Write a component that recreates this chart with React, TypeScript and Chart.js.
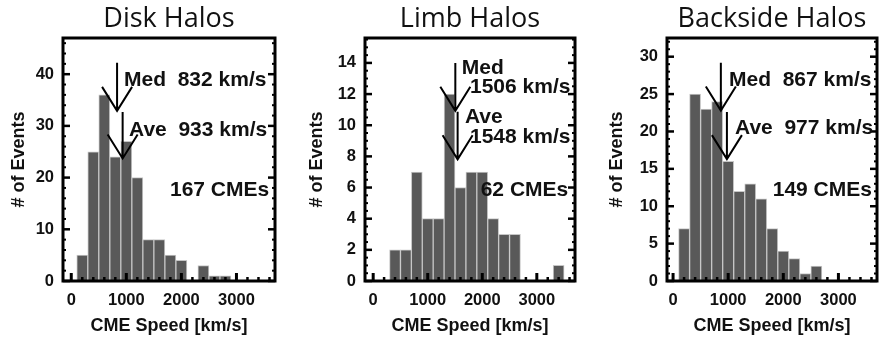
import { useEffect, useRef } from 'react';
import { Chart, registerables } from 'chart.js';

Chart.register(...registerables);

// Histogram bins (bin centres, km/s) and event counts per bin
const speedBins = [200, 400, 600, 800, 1000, 1200, 1400, 1600, 1800, 2000, 2200, 2400, 2600, 2800, 3000, 3200, 3400, 3600];
const diskCounts = [5, 25, 36, 24, 27, 20, 8, 8, 5, 4, 0, 3, 1, 1, 0, 0, 0, 0];
const limbCounts = [0, 2, 2, 7, 4, 4, 12, 6, 7, 7, 4, 3, 3, 0, 0, 0, 1, 0];
const backsideCounts = [7, 25, 23, 24, 16, 12, 13, 11, 7, 4, 3, 1, 2, 0, 0, 0, 0, 0];

// Axis tick labels
const speedTicks = [0, 1000, 2000, 3000];
const diskCountTicks = [0, 10, 20, 30, 40];
const limbCountTicks = [0, 2, 4, 6, 8, 10, 12, 14];
const backsideCountTicks = [0, 5, 10, 15, 20, 25, 30];

// Summary statistics per population
const panelTitles = ['Disk Halos', 'Limb Halos', 'Backside Halos'];
const medianSpeeds = [832, 1506, 867];
const averageSpeeds = [933, 1548, 977];
const eventTotals = [167, 62, 149];

const TEXT = '#111';
const SANS = '"Liberation Sans", Arial, sans-serif';
const H = 344;

type Note = { text: string; x: number; y: number };
type Arrow = { x: number; from: number; to: number };

type Panel = {
  title: string;
  counts: number[];
  yTicks: number[];
  yMax: number;
  yMinor: number;
  xMin: number;
  xMax: number;
  left: number;
  width: number;
  axisWidth: number;
  frameRightPad: number;
  yTitlePad: number;
  arrows: Arrow[];
  notes: Note[];
};

const panels: Panel[] = [
  {
    title: panelTitles[0],
    counts: diskCounts,
    yTicks: diskCountTicks,
    yMax: 47,
    yMinor: 2,
    xMin: -150,
    xMax: 3700,
    left: 0,
    width: 290,
    axisWidth: 63,
    frameRightPad: 15,
    yTitlePad: 8,
    arrows: [
      { x: medianSpeeds[0], from: 42.2, to: 32.9 },
      { x: averageSpeeds[0], from: 32.7, to: 23.7 },
    ],
    notes: [
      { text: `Med  ${medianSpeeds[0]} km/s`, x: 958, y: 38.9 },
      { text: `Ave  ${averageSpeeds[0]} km/s`, x: 1049, y: 29.2 },
      { text: `${eventTotals[0]} CMEs`, x: 1793, y: 17.6 },
    ],
  },
  {
    title: panelTitles[1],
    counts: limbCounts,
    yTicks: limbCountTicks,
    yMax: 15.6,
    yMinor: 0.5,
    xMin: -150,
    xMax: 3700,
    left: 290,
    width: 290,
    axisWidth: 75,
    frameRightPad: 5,
    yTitlePad: 16,
    arrows: [
      { x: medianSpeeds[1], from: 14.0, to: 10.93 },
      { x: averageSpeeds[1], from: 10.87, to: 7.81 },
    ],
    notes: [
      { text: 'Med', x: 1623, y: 13.67 },
      { text: `${medianSpeeds[1]} km/s`, x: 1775, y: 12.47 },
      { text: 'Ave', x: 1683, y: 10.5 },
      { text: `${averageSpeeds[1]} km/s`, x: 1775, y: 9.26 },
      { text: `${eventTotals[1]} CMEs`, x: 1971, y: 5.84 },
    ],
  },
  {
    title: panelTitles[2],
    counts: backsideCounts,
    yTicks: backsideCountTicks,
    yMax: 32.5,
    yMinor: 1,
    xMin: -110,
    xMax: 3700,
    left: 580,
    width: 301,
    axisWidth: 87,
    frameRightPad: 4,
    yTitlePad: 26,
    arrows: [
      { x: medianSpeeds[2], from: 29.2, to: 22.8 },
      { x: averageSpeeds[2], from: 22.6, to: 16.3 },
    ],
    notes: [
      { text: `Med  ${medianSpeeds[2]} km/s`, x: 1015, y: 26.9 },
      { text: `Ave  ${averageSpeeds[2]} km/s`, x: 1124, y: 20.5 },
      { text: `${eventTotals[2]} CMEs`, x: 1808, y: 12.2 },
    ],
  },
];

// Boxed frame with inward ticks on three sides, plus the arrows and notes
const frameAndNotes = {
  id: 'frameAndNotes',
  afterDatasetsDraw(chart: any, _args: any, o: any) {
    const { ctx, chartArea: a } = chart;
    const xs = chart.scales.x;
    const ys = chart.scales.y;
    ctx.save();
    ctx.strokeStyle = '#000';
    ctx.lineCap = 'butt';
    const line = (x0: number, y0: number, x1: number, y1: number, w: number) => {
      ctx.lineWidth = w;
      ctx.beginPath();
      ctx.moveTo(x0, y0);
      ctx.lineTo(x1, y1);
      ctx.stroke();
    };

    for (let i = 0; i * o.xMinor <= xs.max; i++) {
      const v = i * o.xMinor;
      const px = xs.getPixelForValue(v);
      const major = o.xMajor.includes(v);
      line(px, a.bottom, px, a.bottom - (major ? 8 : 4), major ? 3 : 2.5);
    }
    for (let i = 0; i * o.yMinor <= ys.max; i++) {
      const v = i * o.yMinor;
      const py = ys.getPixelForValue(v);
      const major = o.yMajor.includes(v);
      const len = major ? 7 : 3;
      const w = major ? 2.5 : 2;
      line(a.left, py, a.left + len, py, w);
      line(a.right, py, a.right - len, py, w);
    }
    ctx.lineWidth = 3;
    ctx.strokeRect(a.left, a.top, a.right - a.left, a.bottom - a.top);

    ctx.lineWidth = 2;
    for (const ar of o.arrows as Arrow[]) {
      const px = xs.getPixelForValue(ar.x);
      const top = ys.getPixelForValue(ar.from);
      const tip = ys.getPixelForValue(ar.to);
      ctx.beginPath();
      ctx.moveTo(px, top);
      ctx.lineTo(px, tip);
      ctx.moveTo(px - 15, tip - 24);
      ctx.lineTo(px, tip);
      ctx.lineTo(px + 15, tip - 24);
      ctx.stroke();
    }

    ctx.fillStyle = TEXT;
    ctx.font = `bold 21px ${SANS}`;
    ctx.textAlign = 'left';
    ctx.textBaseline = 'middle';
    for (const n of o.notes as Note[]) {
      ctx.fillText(n.text, xs.getPixelForValue(n.x), ys.getPixelForValue(n.y));
    }
    ctx.restore();
  },
};

function HistogramPanel({ panel }: { panel: Panel }) {
  const ref = useRef<HTMLCanvasElement>(null);

  useEffect(() => {
    const canvas = ref.current;
    if (!canvas) return;
    const tickFont = { family: SANS, size: 16.5, weight: 'bold' as const };
    const titleFont = { family: SANS, size: 18, weight: 'bold' as const, lineHeight: 1.2 };
    const chart = new Chart(canvas, {
      type: 'bar',
      data: {
        datasets: [
          {
            data: speedBins.map((s, i) => ({ x: s, y: panel.counts[i] })),
            backgroundColor: '#595959',
            borderColor: '#c6c6c6',
            borderWidth: 1,
            barPercentage: 1,
            categoryPercentage: 1,
          },
        ],
      },
      options: {
        animation: false,
        responsive: false,
        events: [],
        layout: { padding: { left: 0, right: panel.frameRightPad, top: 0, bottom: 0 } },
        plugins: {
          legend: { display: false },
          tooltip: { enabled: false },
          title: {
            display: true,
            text: panel.title,
            fullSize: false,
            color: TEXT,
            font: { family: '"Open Sans", sans-serif', size: 27, weight: 'normal', lineHeight: 1.2 },
            padding: { top: 3, bottom: 2.6 },
          },
          frameAndNotes: {
            xMinor: 200,
            xMajor: speedTicks,
            yMinor: panel.yMinor,
            yMajor: panel.yTicks,
            arrows: panel.arrows,
            notes: panel.notes,
          },
        } as any,
        scales: {
          x: {
            type: 'linear',
            offset: false,
            min: panel.xMin,
            max: panel.xMax,
            grid: { display: false, drawTicks: false, offset: false },
            border: { display: false },
            afterBuildTicks: (s: any) => {
              s.ticks = speedTicks.map((v) => ({ value: v }));
            },
            afterFit: (s: any) => {
              s.height = H - 281;
            },
            ticks: {
              color: TEXT,
              font: tickFont,
              padding: 10,
              maxRotation: 0,
              autoSkip: false,
              callback: (v: any) => String(v),
            },
            title: {
              display: true,
              text: 'CME Speed [km/s]',
              color: TEXT,
              font: titleFont,
              padding: { top: 0, bottom: 7 },
            },
          },
          y: {
            min: 0,
            max: panel.yMax,
            grid: { display: false, drawTicks: false },
            border: { display: false },
            afterBuildTicks: (s: any) => {
              s.ticks = panel.yTicks.map((v) => ({ value: v }));
            },
            afterFit: (s: any) => {
              s.width = panel.axisWidth;
            },
            ticks: { color: TEXT, font: tickFont, padding: 9, autoSkip: false, callback: (v: any) => String(v) },
            title: {
              display: true,
              text: '# of Events',
              color: TEXT,
              font: titleFont,
              padding: { top: panel.yTitlePad, bottom: 0 },
            },
          },
        },
      },
      plugins: [frameAndNotes],
    });
    return () => chart.destroy();
  }, [panel]);

  return (
    <canvas
      ref={ref}
      width={panel.width}
      height={H}
      style={{ position: 'absolute', left: panel.left, top: 0, width: panel.width, height: H }}
    />
  );
}

export default function App() {
  return (
    <div style={{ position: 'absolute', left: 0, top: 0, width: 881, height: H, background: '#fff', overflow: 'hidden' }}>
      {panels.map((p) => (
        <HistogramPanel key={p.title} panel={p} />
      ))}
    </div>
  );
}
